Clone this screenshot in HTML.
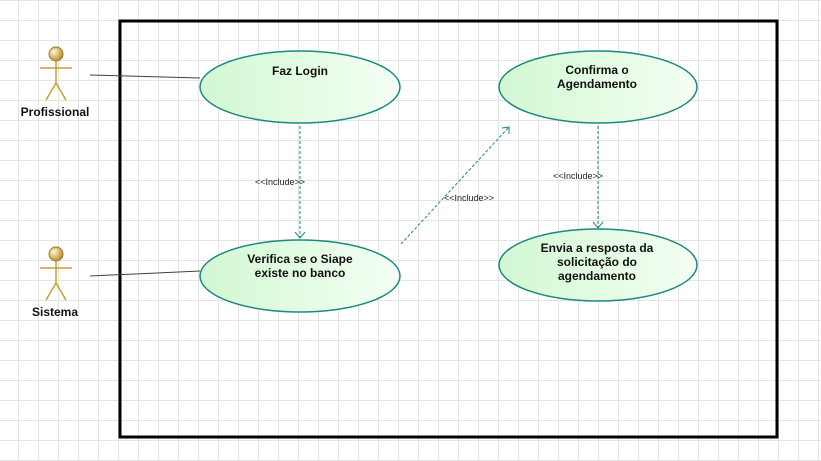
<!DOCTYPE html>
<html><head><style>
body{margin:0;width:821px;height:461px;overflow:hidden;background:#fff;
background-image:linear-gradient(#e4e4e4 1px,transparent 1px),linear-gradient(90deg,#e4e4e4 1px,transparent 1px);
background-size:20px 20px;background-position:18px 0px;}
svg{position:absolute;left:0;top:0}
text{font-family:"Liberation Sans",Arial,sans-serif}
.b{font-weight:bold;font-size:12px;fill:#111}
.s{font-size:9px;fill:#222}
</style></head><body>
<svg width="821" height="461">
<defs>
<linearGradient id="g" x1="0" x2="1"><stop offset="0" stop-color="#d2f8d2"/><stop offset="1" stop-color="#f4fff4"/></linearGradient>
<radialGradient id="h" cx="0.35" cy="0.35" r="0.7"><stop offset="0" stop-color="#fff6d8"/><stop offset="1" stop-color="#b48a28"/></radialGradient>
</defs>
<rect x="120" y="21" width="657" height="416" fill="none" stroke="#000" stroke-width="3"/>
<g stroke="#c9a030" stroke-width="1.5" fill="none">
<line x1="56" y1="61" x2="56" y2="83"/><line x1="40" y1="68" x2="72" y2="68"/>
<line x1="56" y1="83" x2="46" y2="100"/><line x1="56" y1="83" x2="66" y2="100"/>
<line x1="56" y1="260" x2="56" y2="283"/><line x1="40" y1="268" x2="72" y2="268"/>
<line x1="56" y1="283" x2="46" y2="300"/><line x1="56" y1="283" x2="66" y2="300"/>
</g>
<circle cx="56" cy="54" r="7" fill="url(#h)" stroke="#a07820"/>
<circle cx="56" cy="254" r="7" fill="url(#h)" stroke="#a07820"/>
<text x="55" y="116" class="b" text-anchor="middle" font-size="11">Profissional</text>
<text x="55" y="316" class="b" text-anchor="middle" font-size="11">Sistema</text>
<line x1="90" y1="75" x2="200" y2="78" stroke="#4a4030"/>
<line x1="90" y1="276" x2="200" y2="271" stroke="#4a4030"/>
<g fill="url(#g)" stroke="#1a8a80" stroke-width="1.5">
<ellipse cx="300" cy="87" rx="100" ry="36"/>
<ellipse cx="598" cy="87" rx="99" ry="36"/>
<ellipse cx="300" cy="276" rx="100" ry="36"/>
<ellipse cx="598" cy="265" rx="99" ry="36"/>
</g>
<text x="300" y="75" class="b" text-anchor="middle">Faz Login</text>
<text x="597" y="74" class="b" text-anchor="middle">Confirma o</text>
<text x="597" y="88" class="b" text-anchor="middle">Agendamento</text>
<text x="300" y="263" class="b" text-anchor="middle">Verifica se o Siape</text>
<text x="300" y="277" class="b" text-anchor="middle">existe no banco</text>
<text x="597" y="252" class="b" text-anchor="middle">Envia a resposta da</text>
<text x="597" y="266" class="b" text-anchor="middle">solicitação do</text>
<text x="597" y="280" class="b" text-anchor="middle">agendamento</text>
<g stroke="#1a8a80" fill="none" stroke-dasharray="3,2">
<line x1="300" y1="126" x2="300" y2="238"/>
<line x1="401" y1="244" x2="509" y2="127"/>
<line x1="598" y1="126" x2="598" y2="227"/>
</g>
<g stroke="#1a8a80" fill="none">
<polyline points="295,232 300,238 305,232"/>
<polyline points="502,128 509,127 509,134"/>
<polyline points="593,222 598,228 603,222"/>
</g>
<text x="280" y="185" class="s" text-anchor="middle">&lt;&lt;Include&gt;&gt;</text>
<text x="469" y="201" class="s" text-anchor="middle">&lt;&lt;Include&gt;&gt;</text>
<text x="578" y="179" class="s" text-anchor="middle">&lt;&lt;Include&gt;&gt;</text>
</svg>
</body></html>
